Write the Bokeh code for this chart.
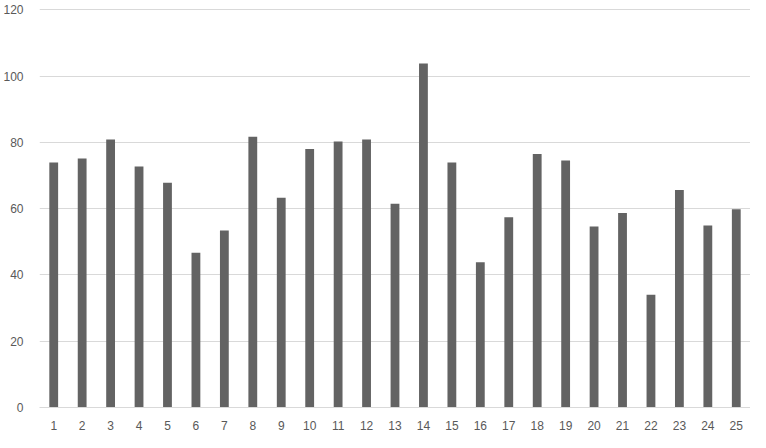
from bokeh.plotting import figure
from bokeh.models import FactorRange, Range1d, ColumnDataSource, FixedTicker
from bokeh.embed import file_html
from bokeh.resources import INLINE

categories = [str(i) for i in range(1, 26)]
values = [73.9, 75.1, 80.9, 72.7, 67.8, 46.7, 53.4, 81.7, 63.3, 78.0,
          80.3, 80.9, 61.5, 103.8, 73.9, 43.8, 57.4, 76.5, 74.5, 54.6,
          58.7, 34.0, 65.6, 54.9, 59.8]
y_ticks = [0, 20, 40, 60, 80, 100, 120]

src = ColumnDataSource(dict(x=categories, y=values))

p = figure(width=750, height=432, output_backend="svg", toolbar_location=None,
           x_range=FactorRange(factors=categories, range_padding=0),
           y_range=Range1d(0, 120.4))
p.min_border_top = 8
p.min_border_left = 33
p.min_border_right = 0
p.min_border_bottom = 20
p.outline_line_color = None
p.background_fill_color = "white"
p.border_fill_color = "white"

p.vbar(x="x", top="y", width=0.31, source=src, fill_color="#636363", line_color=None)

p.yaxis.ticker = FixedTicker(ticks=y_ticks)
p.ygrid.ticker = FixedTicker(ticks=y_ticks)
p.ygrid.grid_line_color = "#d9d9d9"
p.ygrid.grid_line_width = 1
p.xgrid.grid_line_color = None

p.yaxis.axis_line_color = None
p.yaxis.major_tick_line_color = None
p.yaxis.minor_tick_line_color = None
p.yaxis.major_label_standoff = 10
p.xaxis.axis_line_color = "#d9d9d9"
p.xaxis.major_tick_line_color = None
p.xaxis.minor_tick_line_color = None
p.xaxis.major_label_standoff = 7

for ax in (p.xaxis, p.yaxis):
    ax.major_label_text_font = "Liberation Sans"
    ax.major_label_text_font_size = "12px"
    ax.major_label_text_color = "#595959"

open("out.html", "w").write(file_html(p, INLINE))
